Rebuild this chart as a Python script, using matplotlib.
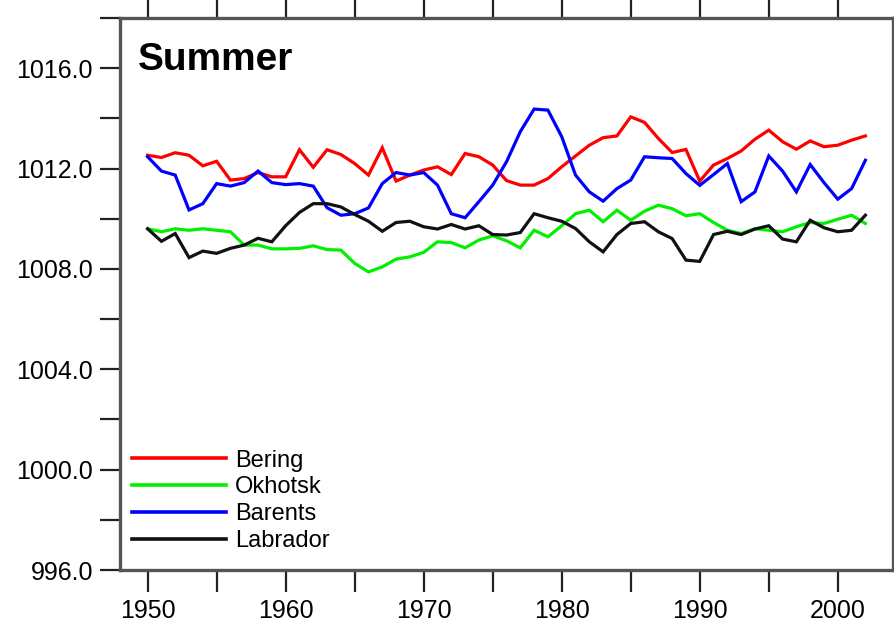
import matplotlib
matplotlib.use("Agg")
import matplotlib.pyplot as plt
from matplotlib.ticker import MultipleLocator, FormatStrFormatter

years = list(range(1950, 2003))

bering = [1012.53, 1012.44, 1012.63, 1012.53, 1012.11, 1012.29, 1011.54, 1011.60, 1011.84, 1011.67,
          1011.67, 1012.75, 1012.05, 1012.75, 1012.56, 1012.20, 1011.74, 1012.83, 1011.50, 1011.74,
          1011.94, 1012.07, 1011.76, 1012.60, 1012.47, 1012.14, 1011.52, 1011.34, 1011.34, 1011.60,
          1012.07, 1012.50, 1012.93, 1013.23, 1013.30, 1014.06, 1013.84, 1013.20, 1012.64, 1012.76,
          1011.50, 1012.14, 1012.40, 1012.70, 1013.17, 1013.53, 1013.07, 1012.77, 1013.10, 1012.87,
          1012.93, 1013.13, 1013.30]

okhotsk = [1009.60, 1009.48, 1009.60, 1009.54, 1009.60, 1009.54, 1009.48, 1008.95, 1008.95, 1008.80,
           1008.80, 1008.82, 1008.92, 1008.77, 1008.75, 1008.22, 1007.88, 1008.08, 1008.39, 1008.48,
           1008.66, 1009.08, 1009.05, 1008.84, 1009.15, 1009.32, 1009.12, 1008.84, 1009.54, 1009.28,
           1009.72, 1010.20, 1010.34, 1009.88, 1010.34, 1009.94, 1010.30, 1010.54, 1010.40, 1010.12,
           1010.20, 1009.85, 1009.54, 1009.41, 1009.60, 1009.54, 1009.48, 1009.68, 1009.85, 1009.81,
           1009.98, 1010.14, 1009.81]

barents = [1012.47, 1011.90, 1011.74, 1010.35, 1010.60, 1011.40, 1011.30, 1011.44, 1011.90, 1011.44,
           1011.36, 1011.40, 1011.30, 1010.44, 1010.14, 1010.20, 1010.43, 1011.40, 1011.84, 1011.74,
           1011.84, 1011.34, 1010.20, 1010.04, 1010.68, 1011.34, 1012.27, 1013.47, 1014.37, 1014.33,
           1013.27, 1011.74, 1011.07, 1010.70, 1011.20, 1011.54, 1012.47, 1012.43, 1012.40, 1011.80,
           1011.33, 1011.76, 1012.20, 1010.68, 1011.07, 1012.50, 1011.90, 1011.07, 1012.16, 1011.44,
           1010.78, 1011.20, 1012.33]

labrador = [1009.60, 1009.10, 1009.41, 1008.45, 1008.71, 1008.62, 1008.82, 1008.95, 1009.22, 1009.08,
            1009.72, 1010.25, 1010.60, 1010.60, 1010.47, 1010.17, 1009.90, 1009.50, 1009.85, 1009.90,
            1009.68, 1009.59, 1009.77, 1009.59, 1009.72, 1009.37, 1009.35, 1009.45, 1010.20, 1010.04,
            1009.90, 1009.61, 1009.08, 1008.68, 1009.37, 1009.81, 1009.88, 1009.48, 1009.21, 1008.35,
            1008.30, 1009.37, 1009.50, 1009.37, 1009.59, 1009.72, 1009.19, 1009.08, 1009.94, 1009.64,
            1009.48, 1009.54, 1010.14]

series_names = ["Bering", "Okhotsk", "Barents", "Labrador"]
series_colors = ["#ff0000", "#00f000", "#0000ff", "#111111"]

plt.rcParams["font.family"] = ["Liberation Sans", "DejaVu Sans"]

fig = plt.figure(figsize=(8.95, 6.22), dpi=100)
ax = fig.add_axes([120 / 895, 1 - 570 / 622, 773 / 895, 552 / 622])

for vals, name, col in zip([bering, okhotsk, barents, labrador], series_names, series_colors):
    ax.plot(years, vals, color=col, lw=2.3, label=name, solid_joinstyle="miter")

ax.set_xlim(1948, 2004)
ax.set_ylim(996, 1018)

ax.xaxis.set_major_locator(MultipleLocator(10))
ax.xaxis.set_minor_locator(MultipleLocator(5))
ax.yaxis.set_major_locator(MultipleLocator(4))
ax.yaxis.set_minor_locator(MultipleLocator(2))
ax.yaxis.set_major_formatter(FormatStrFormatter("%.1f"))

for s in ax.spines.values():
    s.set_color("#555555")
    s.set_linewidth(2.4)

ax.tick_params(axis="both", which="both", direction="out", color="#222222", width=1.6,
               top=True, right=True, labelsize=18)
ax.tick_params(axis="x", which="both", length=16, pad=5)
ax.tick_params(axis="y", which="both", length=14.5, pad=5)

ax.text(0.023, 0.905, "Summer", transform=ax.transAxes, fontsize=28, fontweight="bold",
        ha="left", va="baseline", color="black")

leg = ax.legend(loc="upper left", bbox_to_anchor=(0.0155, 0.218), frameon=False, fontsize=17,
                handlelength=4.0, handletextpad=0.35, labelspacing=0.2, borderpad=0.0,
                borderaxespad=0.0)
for ln in leg.get_lines():
    ln.set_linewidth(2.6)

fig.savefig("out.png", dpi=100, facecolor="white")
